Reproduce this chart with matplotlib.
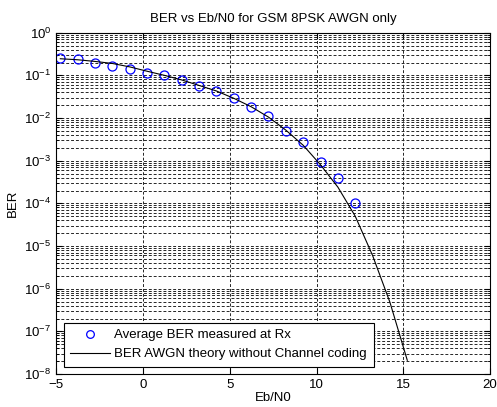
import matplotlib
matplotlib.use("Agg")
import matplotlib.pyplot as plt
from matplotlib.ticker import FixedLocator, NullFormatter

plt.rcParams['font.family'] = ['Liberation Sans', 'DejaVu Sans']
plt.rcParams['mathtext.fontset'] = 'custom'
plt.rcParams['mathtext.rm'] = 'Liberation Sans'

# simulated points (Eb/N0 = Es/N0 - 10log10(3))
ebn0_sim = [-4.77, -3.77, -2.77, -1.77, -0.77, 0.23, 1.23, 2.23, 3.23,
            4.23, 5.23, 6.23, 7.23, 8.23, 9.23, 10.23, 11.23, 12.23]
ber_sim = [0.25, 0.242, 0.19, 0.17, 0.14, 0.116, 0.10, 0.077, 0.057,
           0.044, 0.029, 0.0185, 0.0112, 0.0049, 0.0027, 0.00094, 0.0004, 0.0001]

# theory curve
ebn0_th = [-4.77, -3.77, -2.77, -1.77, -0.77, 0.23, 1.23, 2.23, 3.23, 4.23,
           5.23, 6.23, 7.23, 8.23, 9.23, 10.23, 11.23, 12.23, 13.23, 14.23, 15.23]
ber_th = [0.245, 0.232, 0.212, 0.19, 0.158, 0.125, 0.10, 0.078, 0.058, 0.043,
          0.029, 0.0184, 0.0105, 0.0052, 0.0023, 0.0008, 0.00024, 5.0e-5,
          6.0e-6, 4.8e-7, 2.1e-8]

decades = list(range(-8, 1))

fs = 9.5

fig = plt.figure(figsize=(4.97, 4.07), dpi=100)
ax = fig.add_axes([0.1133, 0.081, 0.8727, 0.8387])

ax.semilogy(ebn0_sim, ber_sim, 'o', mfc='none', mec='#0000ff', ms=6.5, mew=0.9,
            label='Average BER measured at Rx')
ax.semilogy(ebn0_th, ber_th, '-', color='black', lw=0.8,
            label='BER AWGN theory without Channel coding')

ax.set_xlim(-5, 20)
ax.set_ylim(1e-8, 1)
ax.xaxis.set_major_locator(FixedLocator([-5, 0, 5, 10, 15, 20]))
ax.yaxis.set_major_locator(FixedLocator([10.0 ** d for d in decades]))
ax.yaxis.set_minor_locator(FixedLocator([m * 10.0 ** d for d in decades[:-1]
                                         for m in range(2, 10)]))
ax.yaxis.set_minor_formatter(NullFormatter())

grid_kw = dict(color='0.15', linestyle=(0, (3, 2)), linewidth=0.7)
ax.grid(True, which='major', axis='both', **grid_kw)
ax.grid(True, which='minor', axis='y', **grid_kw)

ax.tick_params(which='both', direction='in', top=True, right=True, labelsize=fs)
ax.tick_params(which='major', length=4)
ax.tick_params(which='minor', length=2)
for s in ax.spines.values():
    s.set_linewidth(0.8)

ax.set_title('BER vs Eb/N0 for GSM 8PSK AWGN only', fontsize=fs, pad=8)
ax.set_xlabel('Eb/N0', fontsize=fs, labelpad=1)
ax.set_ylabel('BER', fontsize=fs)

leg = ax.legend(loc='lower left', fontsize=fs, fancybox=False, framealpha=1,
                edgecolor='black', borderaxespad=0.55, borderpad=0.5,
                labelspacing=0.5, handlelength=3.0, handletextpad=0.35,
                markerscale=0.85)
leg.get_frame().set_linewidth(0.8)

fig.savefig('out.png', dpi=100)
